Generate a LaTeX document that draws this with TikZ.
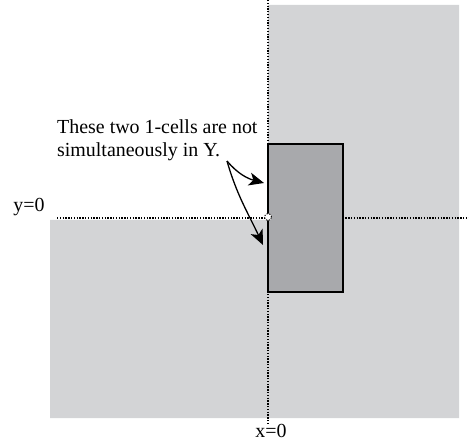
\documentclass[tikz,border=0pt]{standalone}
\usepackage{fontspec}
\setmainfont{Liberation Serif}
\definecolor{lightcell}{RGB}{211,212,214}
\definecolor{darkcell}{RGB}{168,169,172}
\usetikzlibrary{arrows.meta}

\begin{document}
\begin{tikzpicture}[
    x=1bp, y=-1bp,
    region/.style={fill=lightcell, draw=none},
    cell/.style={fill=darkcell, draw=black, line width=1.1bp},
    axis/.style={line width=1.4bp, dash pattern=on 1.3bp off 1.5bp},
    label/.style={font=\fontsize{20}{24}\selectfont, inner sep=0pt},
    pointer/.style={-{Stealth[length=15bp, width=13bp, inset=4bp, fill=black]},
      line width=1.3bp},
  ]
    \useasboundingbox (0,0) rectangle (469,440);
    % the set, minus its upper left quadrant
    \fill[region] (268,5) -- (459,5) -- (459,418) -- (50,418) -- (50,220)
      -- (268,220) -- cycle;
    % axes
    \draw[axis] (268,0) -- (268,424);
    \draw[axis] (57,218) -- (469,218);
    \node[label, anchor=base] (xlab) at (271,437) {x=0};
    \node[label, anchor=base] (ylab) at (29,212) {y=0};
    % the 2-cell
    \draw[cell] (268,144) rectangle (343,292);
    \node[circle, fill=white, draw=black, axis, line width=0.9bp,
      minimum size=7bp, inner sep=0pt] (origin) at (268,217) {};
    % note and pointers
    \node[label, anchor=base west, align=left] (note) at (57,157)
      {These two 1-cells are not\\simultaneously in Y.};
    \coordinate (from) at (227,161);
    \coordinate (upper) at (264,183);
    \coordinate (lower) at (263,245);
    \draw[pointer] (from) to[out=-50, in=165] (upper);
    \draw[pointer] (from) to[out=-74, in=115] (lower);
  \end{tikzpicture}
\end{document}
